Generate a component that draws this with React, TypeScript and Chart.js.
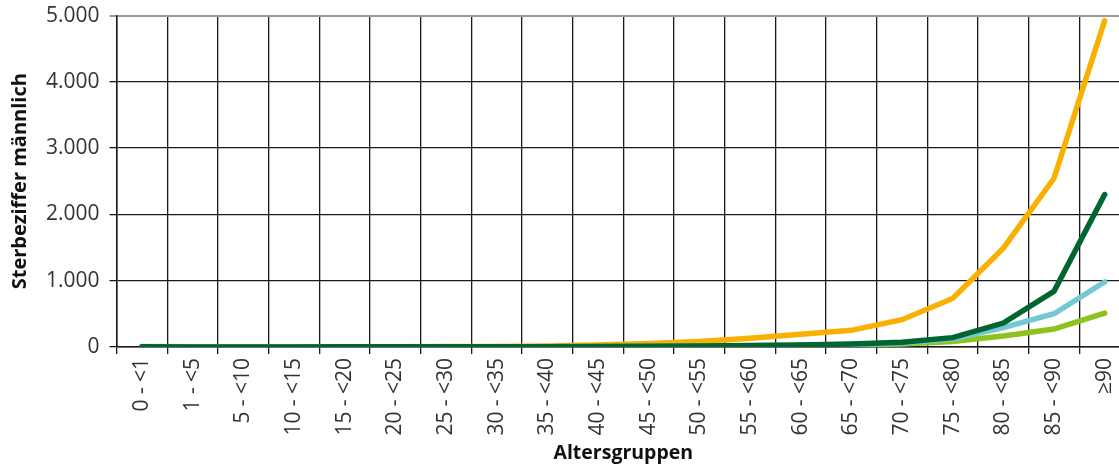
import React, { useEffect, useRef } from "react";
import { Chart, registerables } from "chart.js";

Chart.register(...registerables);

const categories = [
  "0 - <1", "1 - <5", "5 - <10", "10 - <15", "15 - <20", "20 - <25", "25 - <30",
  "30 - <35", "35 - <40", "40 - <45", "45 - <50", "50 - <55", "55 - <60", "60 - <65",
  "65 - <70", "70 - <75", "75 - <80", "80 - <85", "85 - <90", "≥90",
];

const orangeSeries = [5, 1, 1, 1, 3, 4, 5, 7, 12, 28, 52, 80, 130, 190, 250, 410, 730, 1490, 2545, 4925];
const darkGreenSeries = [3, 0, 0, 0, 1, 1, 1, 2, 3, 6, 10, 15, 22, 30, 45, 70, 140, 360, 840, 2300];
const lightBlueSeries = [3, 0, 0, 0, 1, 1, 1, 2, 3, 5, 8, 12, 18, 25, 35, 60, 120, 290, 500, 980];
const lightGreenSeries = [2, 0, 0, 0, 1, 1, 1, 1, 2, 3, 5, 8, 12, 18, 28, 45, 80, 165, 270, 510];

const yTicks = [0, 1000, 2000, 3000, 4000, 5000];

const FONT = "'Open Sans', 'DejaVu Sans', sans-serif";

function fmt(v: number): string {
  return String(v).replace(/\B(?=(\d{3})+(?!\d))/g, ".");
}

export default function App() {
  const ref = useRef<HTMLCanvasElement | null>(null);

  useEffect(() => {
    if (!ref.current) return;
    const line = (data: number[], color: string) => ({
      data,
      borderColor: color,
      backgroundColor: color,
      borderWidth: 5.5,
      pointRadius: 0,
      tension: 0,
      borderCapStyle: "round" as const,
      borderJoinStyle: "miter" as const,
      fill: false,
    });
    const chart = new Chart(ref.current, {
      type: "line",
      data: {
        labels: categories,
        datasets: [
          line(darkGreenSeries, "#00652F"),
          line(lightBlueSeries, "#74C8D4"),
          line(lightGreenSeries, "#8DC21F"),
          line(orangeSeries, "#F9B000"),
        ],
      },
      options: {
        animation: false,
        responsive: true,
        maintainAspectRatio: false,
        layout: { padding: { top: 0, right: 6, left: 8, bottom: 2 } },
        plugins: { legend: { display: false }, tooltip: { enabled: false } },
        scales: {
          x: {
            type: "category",
            offset: true,
            grid: {
              offset: true,
              color: "#1a1a1a",
              lineWidth: 1.3,
              drawTicks: true,
              tickLength: 7,
            },
            border: { color: "#1a1a1a", width: 1.5 },
            ticks: {
              autoSkip: false,
              maxRotation: 90,
              minRotation: 90,
              padding: 4,
              color: "#333",
              font: { family: FONT, size: 21 },
            },
            title: {
              display: true,
              text: "Altersgruppen",
              color: "#111",
              font: { family: FONT, size: 19.5, weight: "bold" },
              padding: { top: 2, bottom: 0 },
            },
          },
          y: {
            min: 0,
            max: 5000,
            afterBuildTicks: (axis: any) => {
              axis.ticks = yTicks.map((v) => ({ value: v }));
            },
            grid: {
              color: (ctx: any) => (ctx.tick && ctx.tick.value === 5000 ? "#9a9a9a" : "#1a1a1a"),
              lineWidth: (ctx: any) => (ctx.tick && ctx.tick.value === 5000 ? 2 : 1.3),
              drawTicks: true,
              tickLength: 7,
            },
            border: { color: "#1a1a1a", width: 1.5 },
            ticks: {
              padding: 10,
              color: "#333",
              font: { family: FONT, size: 21 },
              callback: (v: any) => fmt(Number(v)),
            },
            title: {
              display: true,
              text: "Sterbeziffer männlich",
              color: "#111",
              font: { family: FONT, size: 20, weight: "bold" },
              padding: { top: 0, bottom: 4 },
            },
          },
        },
      },
    });
    return () => chart.destroy();
  }, []);

  return (
    <div style={{ position: "absolute", left: 0, top: 0, width: 1119, height: 466, overflow: "hidden", background: "#fff" }}>
      <div style={{ position: "absolute", left: 0, top: -7, width: 1136, height: 474 }}>
        <canvas ref={ref} />
      </div>
    </div>
  );
}
